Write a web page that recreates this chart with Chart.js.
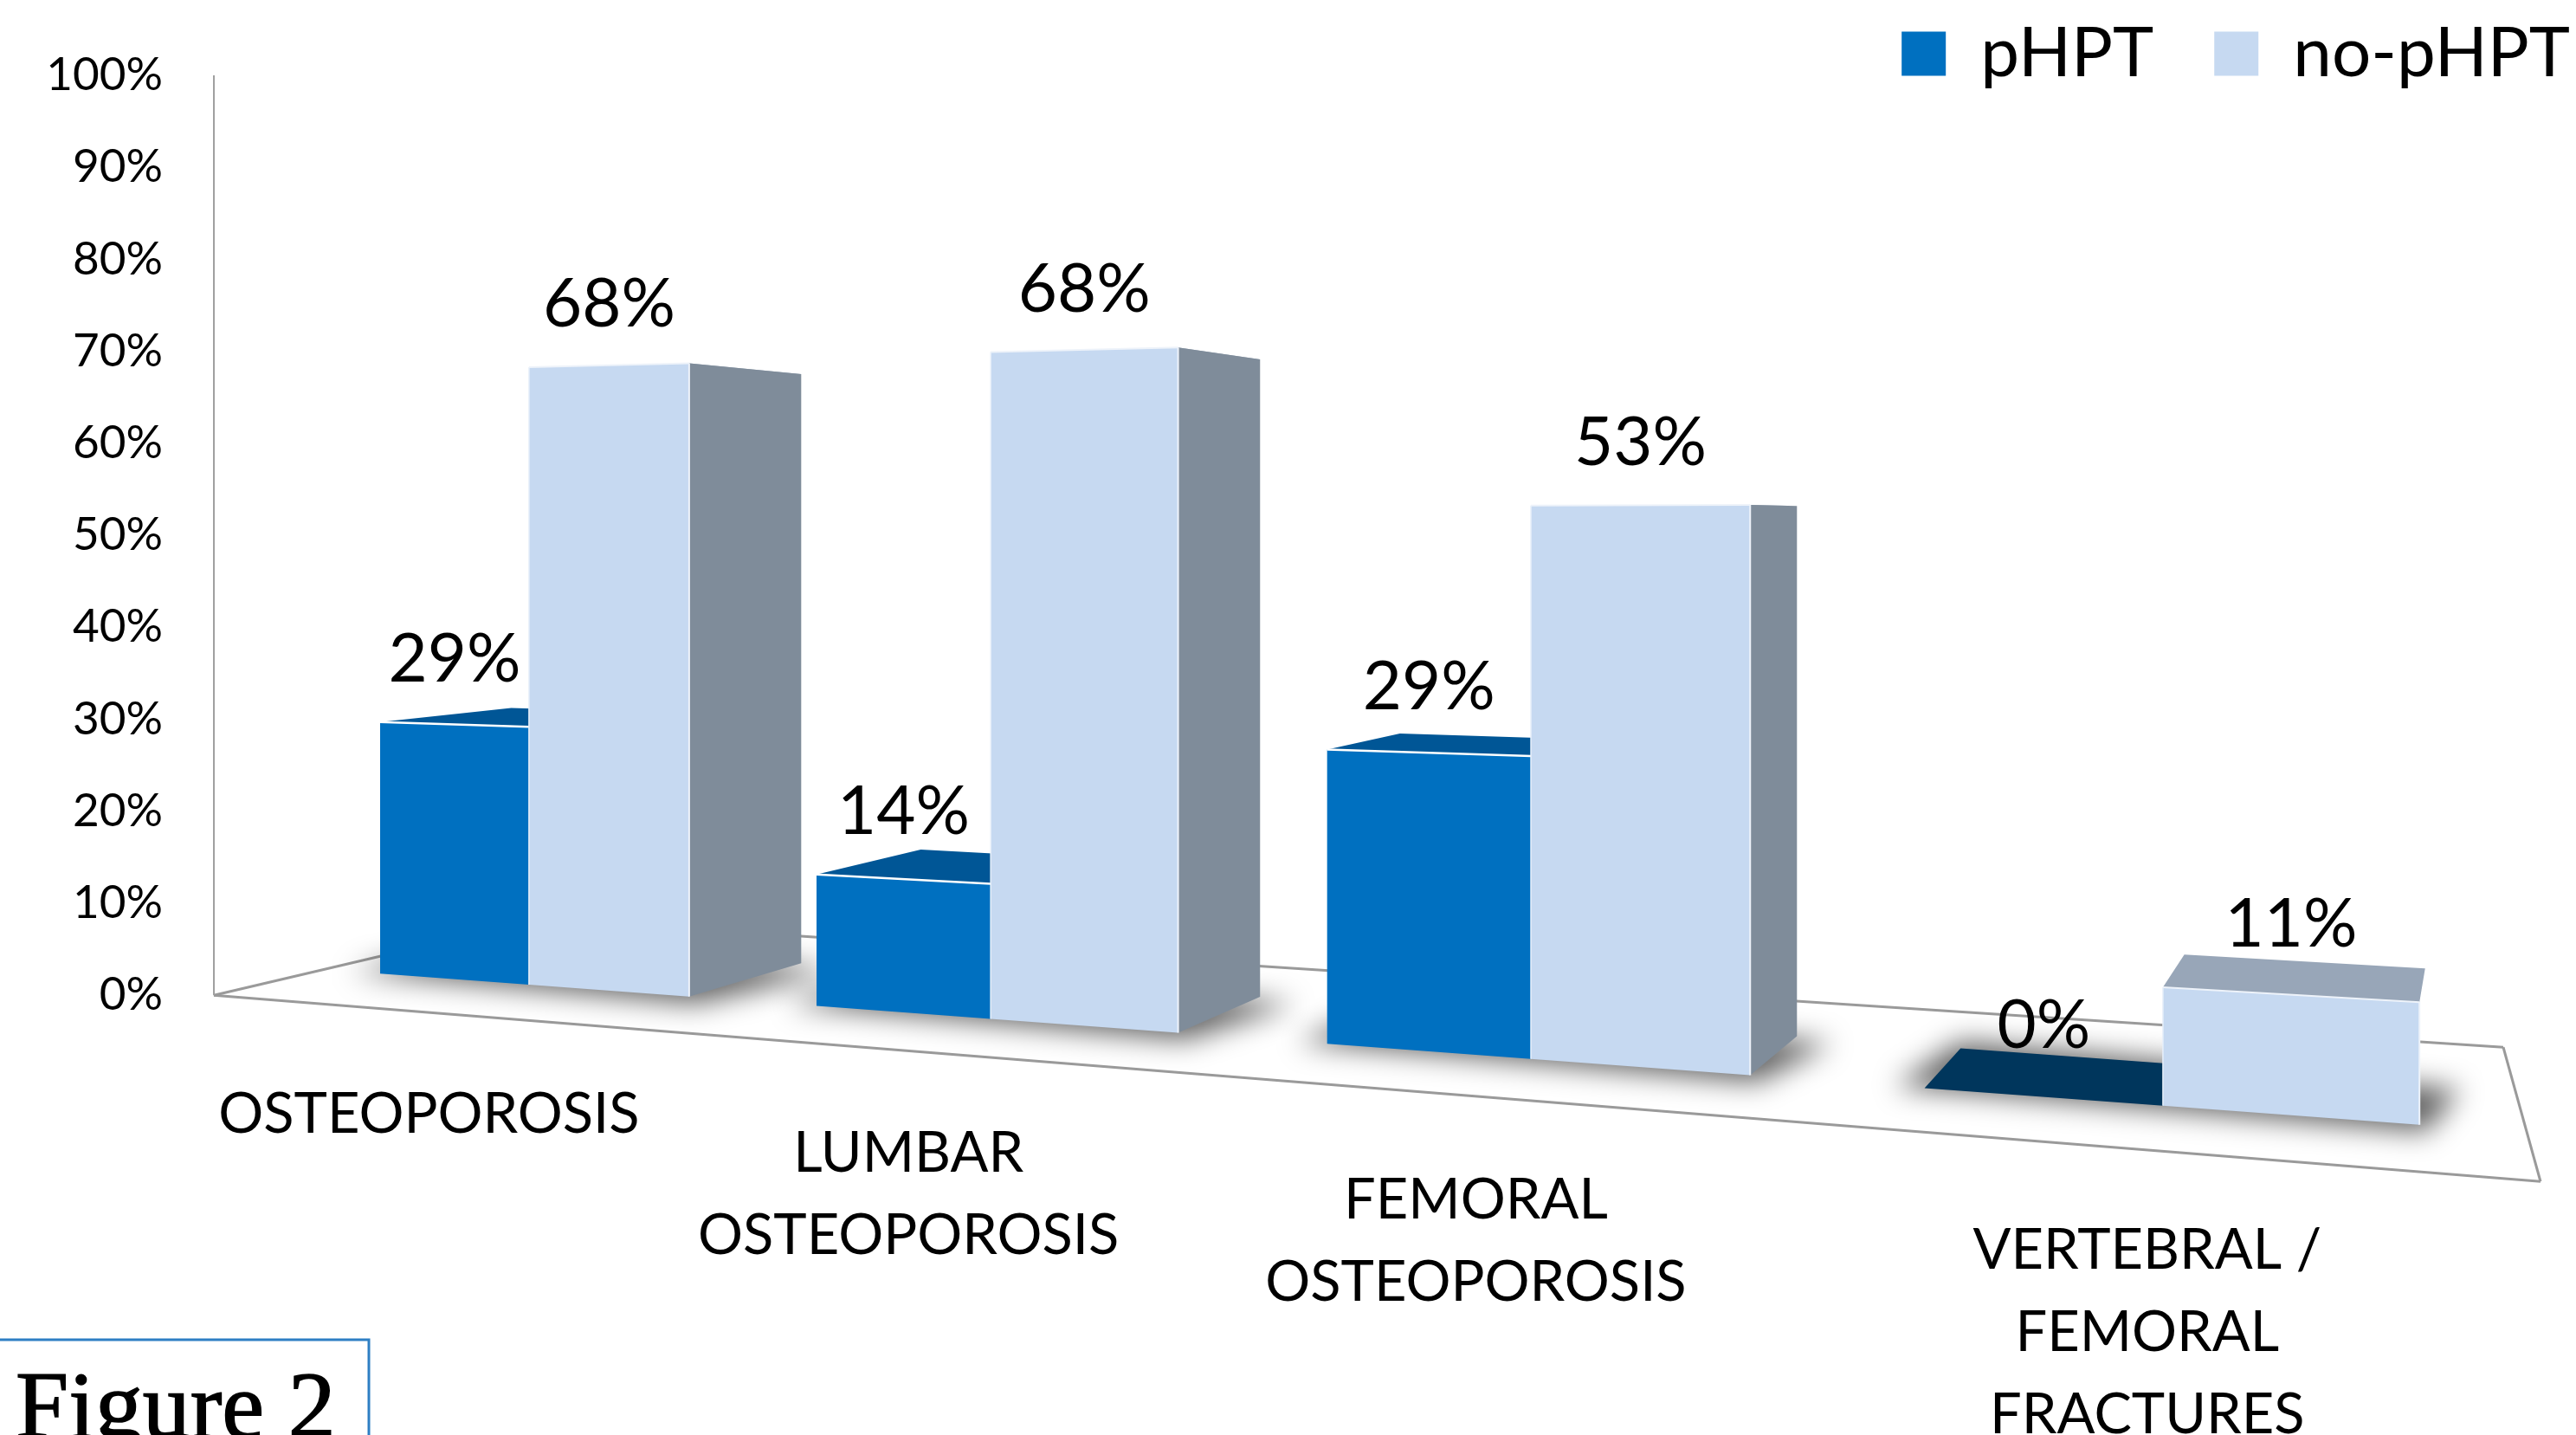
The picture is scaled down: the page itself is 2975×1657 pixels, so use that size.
<!DOCTYPE html>
<html>
<head>
<meta charset="utf-8">
<style>html,body{margin:0;padding:0;background:#fff}canvas{display:block}</style>
<script src="https://cdn.jsdelivr.net/npm/chart.js@4"></script>
</head>
<body>
<canvas id="c" width="2975" height="1657"></canvas>
<script>
const categories = [["OSTEOPOROSIS"], ["LUMBAR", "OSTEOPOROSIS"], ["FEMORAL", "OSTEOPOROSIS"], ["VERTEBRAL /", "FEMORAL", "FRACTURES"]];
const seriesNames = ["pHPT", "no-pHPT"];
const phptValues = [29, 14, 29, 0];
const noPhptValues = [68, 68, 53, 11];
const yTickValues = [0, 10, 20, 30, 40, 50, 60, 70, 80, 90, 100];

/* perspective of the drawing (style only, no data) */
const VIEW = {
  startX: 439, period: 504, growth: 1.17,
  splitT: 0.359, rightT: 0.724,
  footSlope: 0.0741, footOffset: -25,
  depthGX: 0.0615, depthGY: 0.07, vanishX: 2900, vanishY: 600,
  topFlatAt: 51,
  stretch: [[0.943, 1.021, 1.103, 1], [0.987, 1.066, 1.135, 1.171]],
  labelStep: [0.12, 0.072], labelGap: [159, 163, 168, 169],
  labelLine: 95, valueLift: 72
};
const COLORS = {
  front: ["#0070C0", "#C6D9F1"], side: "#7F8C9A", topNo: "#98A6B8",
  topP: "#005696", topPFlat: "#00365C", floor: "#9a9a9a", axis: "#a0a0a0", frame: "#2E7FC4"
};
const FONT = "Lato, sans-serif";

function warp(t){ const r = VIEW.growth; return VIEW.startX + VIEW.period * (Math.pow(r, t) - 1) / (r - 1); }
function depth(p){ return [p[0] + VIEW.depthGX * (VIEW.vanishX - p[0]), p[1] + VIEW.depthGY * (VIEW.vanishY - p[1])]; }
function poly(ctx, pts, fill){
  ctx.beginPath();
  pts.forEach((p, k) => k ? ctx.lineTo(p[0], p[1]) : ctx.moveTo(p[0], p[1]));
  ctx.closePath();
  ctx.fillStyle = fill;
  ctx.fill();
}
function seg(ctx, a, b, col, w){
  ctx.beginPath(); ctx.moveTo(a[0], a[1]); ctx.lineTo(b[0], b[1]);
  ctx.strokeStyle = col; ctx.lineWidth = w; ctx.stroke();
}

const perspectiveBars = {
  id: "perspectiveBars",
  beforeLayout(chart){
    const l = chart.legend;
    if (l && !l._wrapped){
      const f = l.fit;
      l.fit = function(){ f.call(this); this.height = 87; };
      l._wrapped = true;
    }
  },
  afterLayout(chart){
    const l = chart.legend;
    if (l){ l.top = -48; l.bottom = 140; l.right += 63; }
  },
  beforeDatasetDraw(){ return false; },
  beforeDatasetsDraw(chart){
    const ctx = chart.ctx, xs = chart.scales.x, ys = chart.scales.y;
    const zero = ys.getPixelForValue(0);
    const px0 = xs.getPixelForValue(0), step = xs.getPixelForValue(1) - px0;
    const foot = x => zero + VIEW.footOffset + VIEW.footSlope * (x - VIEW.startX);
    const axisX = xs.left;

    ctx.save();
    /* floor */
    const o = [axisX, zero];
    const bl = [622, zero - 88], br = [2891, zero + 60], fr = [2934, zero + 215];
    [[o, bl], [bl, br], [br, fr], [fr, o]].forEach(e => seg(ctx, e[0], e[1], COLORS.floor, 3));
    /* value axis line */
    seg(ctx, [axisX, ys.getPixelForValue(100)], [axisX, zero], COLORS.axis, 2);

    const bars = categories.map((_, i) => {
      const t = (xs.getPixelForValue(i) - px0) / step;
      const L = warp(t), S = warp(t + VIEW.splitT), R = warp(t + VIEW.rightT);
      const make = (ds, a, b) => {
        const v = chart.data.datasets[ds].data[i];
        const h = (zero - ys.getPixelForValue(v)) * VIEW.stretch[ds][i];
        const tl = [a, foot(a) - h];
        const slope = VIEW.footSlope * (1 - v / VIEW.topFlatAt);
        const tr = [b, tl[1] + slope * (b - a)];
        return { v, tl, tr, bl: [a, foot(a)], br: [b, foot(b)] };
      };
      return { p: make(0, L, S), n: make(1, S, R), L, S, R };
    });

    /* shadows */
    ctx.save();
    ctx.filter = "blur(16px)";
    bars.forEach(b => {
      const a = [b.L - 34, foot(b.L) - 2];
      const c = [b.R + 8, foot(b.R) + 8];
      const bb = depth([b.R, foot(b.R)]);
      const d = [Math.max(bb[0], b.R) + 40, bb[1] + 8];
      const e = depth([b.L, foot(b.L)]);
      poly(ctx, [a, c, d, [e[0], e[1] - 8]], "rgba(0,0,0,0.62)");
    });
    ctx.restore();

    bars.forEach(b => {
      const n = b.n, p = b.p;
      /* top faces */
      poly(ctx, [n.tl, n.tr, depth(n.tr), depth(n.tl)], COLORS.topNo);
      poly(ctx, [p.tl, p.tr, depth(p.tr), depth(p.tl)], p.v === 0 ? COLORS.topPFlat : COLORS.topP);
      /* side of the taller bar */
      if (depth(n.br)[0] - n.br[0] > 10){
        poly(ctx, [n.br, n.tr, depth(n.tr), depth(n.br)], COLORS.side);
      }
      /* fronts */
      if (p.v > 0){
        poly(ctx, [p.tl, p.tr, p.br, p.bl], chart.data.datasets[0].backgroundColor);
        seg(ctx, p.tl, p.tr, "#ffffff", 2.5);
      }
      poly(ctx, [n.tl, n.tr, n.br, n.bl], chart.data.datasets[1].backgroundColor);
      seg(ctx, n.tl, n.bl, "#e8f0fa", 1.5);
      seg(ctx, n.tr, n.br, "#eef3fa", 2);
      seg(ctx, n.tl, n.tr, "#eef3fa", 2);
    });

    /* value labels */
    ctx.fillStyle = "#000";
    ctx.font = "78px " + FONT;
    ctx.textAlign = "center";
    ctx.textBaseline = "middle";
    bars.forEach(b => {
      ctx.fillText(b.p.v + "%", (b.L + b.S) / 2, b.p.tl[1] - VIEW.valueLift);
      ctx.fillText(b.n.v + "%", (b.S + b.R) / 2, b.n.tl[1] - VIEW.valueLift);
    });

    /* category labels, following the slant of the floor */
    ctx.font = "65px " + FONT;
    chart.data.labels.forEach((lines, i) => {
      const t = (xs.getPixelForValue(i) - px0) / step;
      const x = warp(t + VIEW.labelStep[0] + VIEW.labelStep[1] * t);
      const y = foot(x) + VIEW.labelGap[i];
      lines.forEach((s, k) => ctx.fillText(s, x, y + k * VIEW.labelLine));
    });

    /* figure tag */
    ctx.strokeStyle = COLORS.frame;
    ctx.lineWidth = 3;
    ctx.beginPath();
    ctx.moveTo(0, 1547); ctx.lineTo(426, 1547); ctx.lineTo(426, 1657);
    ctx.stroke();
    ctx.fillStyle = "#000";
    ctx.textAlign = "left";
    ctx.textBaseline = "alphabetic";
    ctx.font = "110px 'Liberation Serif', serif";
    ctx.fillText("Figure 2", 18, 1660);
    ctx.strokeStyle = "#000";
    ctx.lineWidth = 1.5;
    ctx.strokeText("Figure 2", 18, 1660);
    ctx.restore();
  }
};

new Chart(document.getElementById("c"), {
  type: "bar",
  data: {
    labels: categories,
    datasets: [
      { label: seriesNames[0], data: phptValues, backgroundColor: COLORS.front[0], borderWidth: 0 },
      { label: seriesNames[1], data: noPhptValues, backgroundColor: COLORS.front[1], borderWidth: 0 }
    ]
  },
  plugins: [perspectiveBars],
  options: {
    responsive: false,
    animation: false,
    devicePixelRatio: 1,
    layout: { padding: 0 },
    scales: {
      x: { display: false, grid: { display: false } },
      y: {
        min: -47.8, max: 100,
        afterFit(s){ s.width = 247; s.paddingTop = 0; s.paddingBottom = 0; },
        afterBuildTicks(s){ s.ticks = yTickValues.map(v => ({ value: v })); },
        border: { display: false },
        grid: { display: false, drawTicks: false },
        ticks: {
          autoSkip: false, padding: 59, color: "#000",
          font: { family: FONT, size: 53 },
          callback: v => v + "%"
        }
      }
    },
    plugins: {
      tooltip: { enabled: false },
      title: { display: false },
      legend: {
        display: true, position: "top", align: "end",
        labels: {
          boxWidth: 51, boxHeight: 51, padding: 70, color: "#000",
          font: { family: FONT, size: 80 }
        }
      }
    }
  }
});
</script>
</body>
</html>
